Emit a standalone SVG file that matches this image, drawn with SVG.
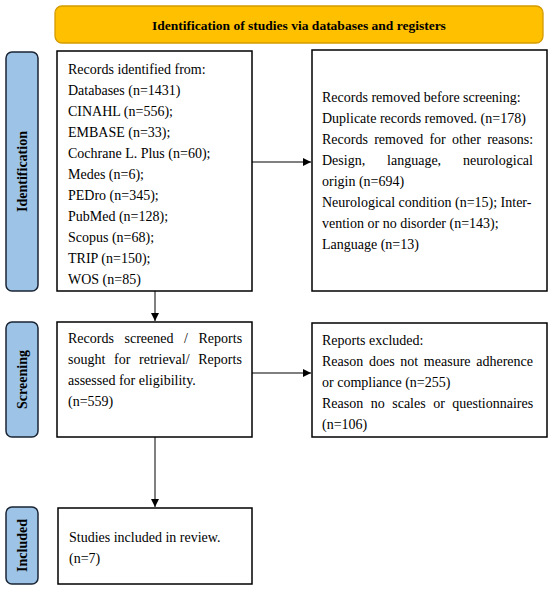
<svg xmlns="http://www.w3.org/2000/svg" width="550" height="590" viewBox="0 0 550 590">
<style>
.bg{fill:#ffffff}
.title{fill:#FFC000;stroke:#D39B00;stroke-width:1.3}
.phase{fill:#9DC3E6;stroke:#1A2433;stroke-width:1.5}
.box{fill:#ffffff;stroke:#000000;stroke-width:1.5}
.t{font-family:"Liberation Serif","Times New Roman",serif;font-size:14px;fill:#000000}
.tb{font-family:"Liberation Serif","Times New Roman",serif;font-size:13.5px;font-weight:bold;fill:#000000}
.lb{font-family:"Liberation Serif","Times New Roman",serif;font-size:14px;font-weight:bold;fill:#000000}
.conn{stroke:#000000;stroke-width:1;fill:none}
</style>
<defs>
<marker id="ah" viewBox="0 0 10 10" refX="10" refY="5" markerWidth="8" markerHeight="8" markerUnits="userSpaceOnUse" orient="auto">
<path d="M0,0 L10,5 L0,10 z" fill="#000000"/>
</marker>
</defs>
<rect class="bg" x="0" y="0" width="550" height="590"/>

<g id="header">
<rect class="title" x="55" y="6" width="488" height="37" rx="7"/>
<text class="tb" x="299" y="29.5" text-anchor="middle">Identification of studies via databases and registers</text>
</g>

<g id="phase-identification">
<rect class="phase" x="6" y="52" width="32" height="239" rx="6"/>
<text class="lb" transform="translate(27,171.5) rotate(-90)" text-anchor="middle">Identification</text>
</g>
<g id="phase-screening">
<rect class="phase" x="6" y="322" width="32" height="115" rx="6"/>
<text class="lb" transform="translate(27,379.5) rotate(-90)" text-anchor="middle">Screening</text>
</g>
<g id="phase-included">
<rect class="phase" x="6" y="507" width="32" height="77" rx="6"/>
<text class="lb" transform="translate(27,545.5) rotate(-90)" text-anchor="middle">Included</text>
</g>

<g id="records-identified">
<rect class="box" x="57" y="51" width="195" height="240"/>
<text class="t" x="68" y="74">Records identified from:</text>
<text class="t" x="68" y="95">Databases (n=1431)</text>
<text class="t" x="68" y="116">CINAHL (n=556);</text>
<text class="t" x="68" y="137">EMBASE (n=33);</text>
<text class="t" x="68" y="158">Cochrane L. Plus (n=60);</text>
<text class="t" x="68" y="179">Medes (n=6);</text>
<text class="t" x="68" y="200">PEDro (n=345);</text>
<text class="t" x="68" y="221">PubMed (n=128);</text>
<text class="t" x="68" y="242">Scopus (n=68);</text>
<text class="t" x="68" y="263">TRIP (n=150);</text>
<text class="t" x="68" y="284">WOS (n=85)</text>
</g>

<g id="records-removed">
<rect class="box" x="312" y="50" width="235" height="241"/>
<text class="t" x="322" y="102">Records removed before screening:</text>
<text class="t" x="322" y="123">Duplicate records removed. (n=178)</text>
<text class="t" x="322" y="144" word-spacing="2.8">Records removed for other reasons:</text>
<text class="t" x="322" y="165" word-spacing="18.4">Design, language, neurological</text>
<text class="t" x="322" y="186">origin (n=694)</text>
<text class="t" x="322" y="207">Neurological condition (n=15); Inter-</text>
<text class="t" x="322" y="228">vention or no disorder (n=143);</text>
<text class="t" x="322" y="249">Language (n=13)</text>
</g>

<g id="records-screened">
<rect class="box" x="57" y="322" width="195" height="115"/>
<text class="t" x="68" y="343" word-spacing="7.1">Records screened / Reports</text>
<text class="t" x="68" y="364" word-spacing="5.2">sought for retrieval/ Reports</text>
<text class="t" x="68" y="385">assessed for eligibility.</text>
<text class="t" x="68" y="406">(n=559)</text>
</g>

<g id="reports-excluded">
<rect class="box" x="312" y="323" width="235" height="114"/>
<text class="t" x="322" y="345">Reports excluded:</text>
<text class="t" x="322" y="366" word-spacing="2.2">Reason does not measure adherence</text>
<text class="t" x="322" y="387">or compliance (n=255)</text>
<text class="t" x="322" y="408" word-spacing="4">Reason no scales or questionnaires</text>
<text class="t" x="322" y="429">(n=106)</text>
</g>

<g id="studies-included">
<rect class="box" x="58" y="508" width="194" height="76"/>
<text class="t" x="69" y="542">Studies included in review.</text>
<text class="t" x="69" y="563">(n=7)</text>
</g>

<g id="connectors">
<line class="conn" x1="252" y1="162" x2="311" y2="162" marker-end="url(#ah)"/>
<line class="conn" x1="155" y1="291" x2="155" y2="321" marker-end="url(#ah)"/>
<line class="conn" x1="252" y1="373" x2="311" y2="373" marker-end="url(#ah)"/>
<line class="conn" x1="155" y1="437" x2="155" y2="507" marker-end="url(#ah)"/>
</g>
</svg>
